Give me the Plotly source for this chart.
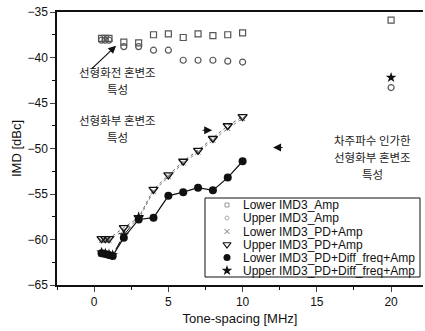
import plotly.graph_objects as go

# ---- data ----
x_amp = [0.5, 0.75, 1, 2, 3, 4, 5, 6, 7, 8, 9, 10, 20]
lower_amp = [-37.9, -37.9, -37.9, -38.3, -38.4, -37.5, -37.4, -37.8, -37.4, -37.6, -37.5, -37.3, -35.9]
upper_amp = [-38.1, -38.1, -38.1, -38.8, -38.8, -39.2, -39.2, -40.3, -40.3, -40.3, -40.4, -40.5, -43.3]

x_pd = [0.5, 0.75, 1, 2, 3, 4, 5, 6, 7, 8, 9, 10]
lower_pd = [-60.1, -60.1, -60.1, -59.0, -57.8, -54.7, -53.1, -51.6, -50.4, -49.1, -47.8, -46.7]
upper_pd = [-59.9, -59.9, -59.9, -58.7, -57.6, -54.5, -52.9, -51.4, -50.2, -48.9, -47.5, -46.5]

x_diff = [0.5, 0.75, 1, 1.25, 2, 3, 4, 5, 6, 7, 8, 9, 10]
lower_diff = [-61.5, -61.6, -61.7, -61.8, -59.8, -57.8, -57.6, -55.2, -54.8, -54.3, -54.6, -53.2, -51.4]
x_star = [0.5, 0.75, 1, 1.25, 2, 3, None, 20]
upper_diff = [-61.4, -61.5, -61.6, -61.7, -59.5, -57.5, None, -42.2]

series_names = ["Lower IMD3_Amp", "Upper IMD3_Amp", "Lower IMD3_PD+Amp", "Upper IMD3_PD+Amp",
                "Lower IMD3_PD+Diff_freq+Amp", "Upper IMD3_PD+Diff_freq+Amp"]

x_ticks = [0, 5, 10, 15, 20]
y_ticks = [-65, -60, -55, -50, -45, -40, -35]

dark = "#111111"
grey = "#555555"
styles = [
    dict(symbol="square-open", size=6, color=grey, line=dict(width=1.2)),
    dict(symbol="circle-open", size=6, color=grey, line=dict(width=1.2)),
    dict(symbol="x-thin-open", size=5, color="#777", line=dict(width=1)),
    dict(symbol="triangle-down-open", size=8, color=dark, line=dict(width=1.3)),
    dict(symbol="circle", size=8, color=dark),
    dict(symbol="star", size=8, color=dark),
]
xs = [x_amp, x_amp, x_pd, x_pd, x_diff, x_star]
ys = [lower_amp, upper_amp, lower_pd, upper_pd, lower_diff, upper_diff]

fig = go.Figure()

# connecting lines
fig.add_trace(go.Scatter(x=x_pd, y=lower_pd, mode="lines", line=dict(color="#888", width=1, dash="dot"),
                         showlegend=False, hoverinfo="skip"))
fig.add_trace(go.Scatter(x=x_pd, y=upper_pd, mode="lines", line=dict(color="#666", width=1, dash="dot"),
                         showlegend=False, hoverinfo="skip"))
fig.add_trace(go.Scatter(x=x_diff, y=lower_diff, mode="lines", line=dict(color=dark, width=1.2),
                         showlegend=False, hoverinfo="skip"))
fig.add_trace(go.Scatter(x=x_star, y=upper_diff, mode="lines", line=dict(color=dark, width=1, dash="dash"),
                         showlegend=False, hoverinfo="skip", connectgaps=False))

for name, x, y, st in zip(series_names, xs, ys, styles):
    fig.add_trace(go.Scatter(x=x, y=y, mode="markers", name=name, marker=st, showlegend=False))

# ---- compact legend (box + sample markers on an overlay axis + labels) ----
def px_x(px):
    return (px - 57) / 366

def px_y(py):
    return 1 - (py - 12) / 273

row_py = [205, 218, 231.5, 244.5, 257.5, 270.5]
legend_styles = [
    dict(symbol="square-open", size=4, color="#999", line=dict(width=1)),
    dict(symbol="circle-open", size=4, color="#aaa", line=dict(width=1)),
    dict(symbol="x-thin-open", size=5, color="#777", line=dict(width=1)),
    dict(symbol="triangle-down-open", size=7, color=dark, line=dict(width=1.2)),
    dict(symbol="circle", size=7, color=dark),
    dict(symbol="star", size=8, color=dark),
]
for st, py in zip(legend_styles, row_py):
    fig.add_trace(go.Scatter(x=[px_x(227)], y=[px_y(py)], mode="markers", marker=st,
                             xaxis="x2", yaxis="y2", showlegend=False, hoverinfo="skip"))

shapes = [dict(type="rect", xref="paper", yref="paper", x0=px_x(205), x1=px_x(420),
               y0=px_y(277), y1=px_y(198), line=dict(color=dark, width=1), fillcolor="white", layer="below")]

kfont = dict(family="Noto Sans CJK KR", size=11.5, color="#222")
korean_lines = [
    ("선형화전 혼변조", 117, 72), ("특성", 117, 89),
    ("선형화부 혼변조", 117, 120), ("특성", 117, 137),
    ("차주파수 인가한", 372, 140), ("선형화부 혼변조", 372, 157), ("특성", 372, 174),
]
ann = []
for txt, px, py in korean_lines:
    ann.append(dict(x=px_x(px), y=px_y(py), xref="paper", yref="paper", text=txt, borderpad=0,
                    showarrow=False, font=kfont, xanchor="center", yanchor="middle"))
ann += [
    dict(x=1.48, y=-38.7, ax=-0.27, ay=-41.4, axref="x", ayref="y", text="", showarrow=True,
         arrowhead=2, arrowsize=1.3, arrowwidth=1.2, arrowcolor=dark),
    dict(x=7.95, y=-48.0, ax=7.2, ay=-48.0, axref="x", ayref="y", text="", showarrow=True,
         arrowhead=2, arrowsize=1.6, arrowwidth=1, arrowcolor=dark),
    dict(x=12.05, y=-49.9, ax=12.8, ay=-49.9, axref="x", ayref="y", text="", showarrow=True,
         arrowhead=2, arrowsize=1.6, arrowwidth=1, arrowcolor=dark),
]
for name, py in zip(series_names, row_py):
    ann.append(dict(x=px_x(242), y=px_y(py), xref="paper", yref="paper", xanchor="left", yanchor="middle",
                    text=name, showarrow=False, borderpad=0,
                    font=dict(family="Liberation Sans, Arial", size=12, color="#111")))

axfont = dict(family="Liberation Sans, Arial", size=12, color="#111")
fig.update_layout(
    width=425, height=331,
    margin=dict(l=57, r=2, t=12, b=46),
    paper_bgcolor="white", plot_bgcolor="white",
    font=axfont,
    annotations=ann,
    shapes=shapes,
    showlegend=False,
    xaxis=dict(range=[-2.5, 22.15], tickvals=x_ticks, ticks="outside", ticklen=5, tickwidth=1,
               showline=True, linecolor="#111", linewidth=1.5, mirror=True, showgrid=False, zeroline=False,
               minor=dict(dtick=2.5, ticks="outside", ticklen=3, tickcolor="#111"),
               title=dict(text="Tone-spacing [MHz]", font=dict(size=13), standoff=6)),
    yaxis=dict(range=[-65, -35], tickvals=y_ticks, ticks="outside", ticklen=5, tickwidth=1,
               showline=True, linecolor="#111", linewidth=1.5, showgrid=False, zeroline=False,
               minor=dict(dtick=2.5, ticks="outside", ticklen=3, tickcolor="#111"),
               title=dict(text="IMD [dBc]", font=dict(size=13), standoff=3)),
    xaxis2=dict(range=[0, 1], overlaying="x", visible=False),
    yaxis2=dict(range=[0, 1], overlaying="y", visible=False),
)
fig.write_html("out.html")
